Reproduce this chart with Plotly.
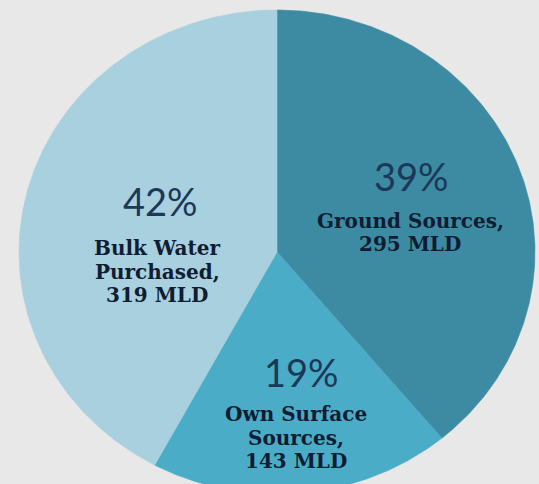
import numpy as np
import plotly.graph_objects as go

# Water supply by source (million litres per day)
sources = ["Ground Sources", "Own Surface Sources", "Bulk Water Purchased"]
supply_mld = [295, 143, 319]
slice_colors = ["#3d8ba3", "#4aacc6", "#a8d0de"]

# label text drawn on each slice
label_lines = [
    ["Ground Sources,", "295 MLD"],
    ["Own Surface", "Sources,", "143 MLD"],
    ["Bulk Water", "Purchased,", "319 MLD"],
]

W, H = 539, 484
BG = "#e8e8e8"

# pie geometry in pixels (slightly wider than tall)
CX, CY, RX, RY = 277, 252, 258, 242

# label anchor points in pixels: (percent x, percent y, text x, first text line y)
label_pos = [
    (411, 176, 410, 221),
    (301, 372, 296, 414),
    (160, 201, 157, 248),
]
LINE_STEP = 23.5

total = float(sum(supply_mld))
shares = [v / total for v in supply_mld]

fig = go.Figure()

start = 0.0
for name, share, color in zip(sources, shares, slice_colors):
    end = start + share * 2 * np.pi
    theta = np.linspace(start, end, 240)
    # angles run clockwise from 12 o'clock
    xs = np.concatenate([[0.0], np.sin(theta), [0.0]])
    ys = np.concatenate([[0.0], np.cos(theta), [0.0]])
    fig.add_trace(go.Scatter(
        x=xs, y=ys, mode="lines", fill="toself",
        fillcolor=color, line=dict(color=color, width=0.6),
        name=name, hoverinfo="skip", showlegend=False,
    ))
    start = end

annotations = []
for share, lines, (px, py, tx, ty) in zip(shares, label_lines, label_pos):
    annotations.append(dict(
        x=px / W, y=1 - py / H, xref="paper", yref="paper",
        text=f"{round(share * 100)}%", showarrow=False,
        xanchor="center", yanchor="middle",
        font=dict(family="Lato", size=38, color="#1b3858"),
    ))
    for i, line in enumerate(lines):
        annotations.append(dict(
            x=tx / W, y=1 - (ty + i * LINE_STEP) / H, xref="paper", yref="paper",
            text=line, showarrow=False,
            xanchor="center", yanchor="middle", align="center",
            font=dict(family="DejaVu Serif", size=20, color="#101c32", weight="bold"),
        ))

fig.update_layout(
    width=W, height=H,
    margin=dict(l=0, r=0, t=0, b=0),
    paper_bgcolor=BG, plot_bgcolor=BG,
    xaxis=dict(range=[(0 - CX) / RX, (W - CX) / RX], visible=False, fixedrange=True),
    yaxis=dict(range=[(CY - H) / RY, CY / RY], visible=False, fixedrange=True),
    annotations=annotations,
    showlegend=False,
)

fig.write_html("out.html")
